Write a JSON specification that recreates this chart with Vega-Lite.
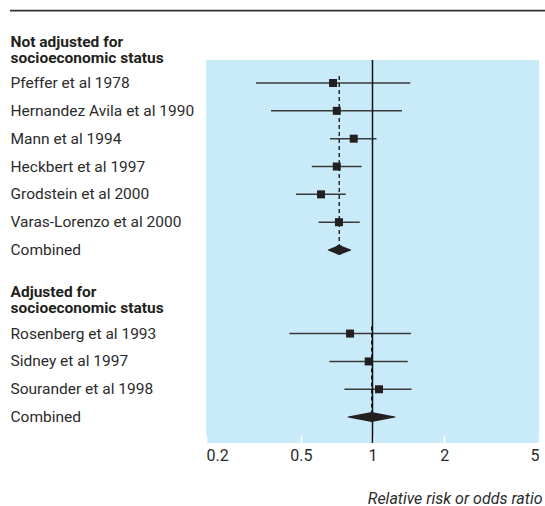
{
  "$schema": "https://vega.github.io/schema/vega-lite/v6.json",
  "width": 333,
  "height": 383,
  "autosize": {"type": "none"},
  "padding": {"left": 206, "top": 60, "right": 6, "bottom": 63},
  "config": {
    "view": {"fill": "#c8eaf9", "stroke": null},
    "font": "Roboto",
    "axisX": {
      "domain": false,
      "grid": false,
      "tickColor": "white",
      "tickSize": -8,
      "tickWidth": 1.5,
      "labelFont": "Roboto",
      "labelFontSize": 16,
      "labelColor": "#2b2b2b",
      "labelPadding": 12,
      "titleFont": "Roboto",
      "titleFontSize": 16,
      "titleFontStyle": "italic",
      "titleFontWeight": "normal",
      "titleColor": "#2b2b2b",
      "titleAnchor": "end",
      "titleAlign": "right",
      "titleX": 336,
      "titlePadding": 27
    }
  },
  "data": {
    "values": [
      {"group": "na", "type": "header", "row": 0, "label": "Not adjusted for\nsocioeconomic status"},
      {"group": "na", "type": "study", "row": 1, "label": "Pfeffer et al 1978", "est": 0.683, "lo": 0.324, "hi": 1.441},
      {"group": "na", "type": "study", "row": 2, "label": "Hernandez Avila et al 1990", "est": 0.708, "lo": 0.375, "hi": 1.33},
      {"group": "na", "type": "study", "row": 3, "label": "Mann et al 1994", "est": 0.834, "lo": 0.663, "hi": 1.04},
      {"group": "na", "type": "study", "row": 4, "label": "Heckbert et al 1997", "est": 0.708, "lo": 0.556, "hi": 0.9},
      {"group": "na", "type": "study", "row": 5, "label": "Grodstein et al 2000", "est": 0.608, "lo": 0.477, "hi": 0.772},
      {"group": "na", "type": "study", "row": 6, "label": "Varas-Lorenzo et al 2000", "est": 0.723, "lo": 0.594, "hi": 0.884},
      {"group": "na", "type": "combined", "row": 7, "label": "Combined", "est": 0.725, "lo": 0.652, "hi": 0.81},
      {"group": "adj", "type": "header", "row": 9, "label": "Adjusted for\nsocioeconomic status"},
      {"group": "adj", "type": "study", "row": 10, "label": "Rosenberg et al 1993", "est": 0.805, "lo": 0.448, "hi": 1.45},
      {"group": "adj", "type": "study", "row": 11, "label": "Sidney et al 1997", "est": 0.964, "lo": 0.659, "hi": 1.405},
      {"group": "adj", "type": "study", "row": 12, "label": "Sourander et al 1998", "est": 1.065, "lo": 0.762, "hi": 1.46},
      {"group": "adj", "type": "combined", "row": 13, "label": "Combined", "est": 0.992, "lo": 0.79, "hi": 1.243}
    ]
  },
  "layer": [
    {
      "transform": [{"filter": "datum.type === 'study'"}],
      "mark": {"type": "rule", "color": "#3a3a3a", "strokeWidth": 1.5},
      "encoding": {
        "x": {
          "field": "lo", "type": "quantitative",
          "title": "Relative risk or odds ratio",
          "scale": {"type": "log", "domain": [0.2, 5], "nice": false},
          "axis": {"values": [0.2, 0.5, 1, 2, 5], "format": "~g"}
        },
        "x2": {"field": "hi"},
        "y": {
          "field": "row", "type": "quantitative",
          "scale": {"domain": [0.1745, 13.93], "reverse": true, "nice": false, "zero": false},
          "axis": null
        }
      }
    },
    {
      "data": {"values": [{}]},
      "mark": {"type": "rule", "color": "#333333", "strokeWidth": 1.8, "xOffset": -196, "x2Offset": 6, "clip": false},
      "encoding": {
        "x": {"datum": 0.2, "type": "quantitative"},
        "x2": {"datum": 5},
        "y": {"datum": -1.6, "type": "quantitative"}
      }
    },
    {
      "data": {"values": [{}]},
      "mark": {"type": "rule", "color": "#111111", "strokeWidth": 1.5},
      "encoding": {
        "x": {"datum": 1, "type": "quantitative"}
      }
    },
    {
      "transform": [
        {"filter": "datum.type !== 'header'"},
        {"joinaggregate": [{"op": "min", "field": "row", "as": "top"}], "groupby": ["group"]},
        {"filter": "datum.type === 'combined'"}
      ],
      "mark": {"type": "rule", "color": "#111111", "strokeWidth": 1.3, "strokeDash": [4, 3], "yOffset": -7},
      "encoding": {
        "x": {"field": "est", "type": "quantitative"},
        "y": {"field": "top", "type": "quantitative"},
        "y2": {"field": "row"}
      }
    },
    {
      "transform": [{"filter": "datum.type === 'study'"}],
      "mark": {"type": "point", "shape": "square", "filled": true, "size": 64, "color": "#231f20", "opacity": 1},
      "encoding": {
        "x": {"field": "est", "type": "quantitative"},
        "y": {"field": "row", "type": "quantitative"}
      }
    },
    {
      "transform": [
        {"filter": "datum.type === 'combined'"},
        {"fold": ["lo", "est", "hi"], "as": ["k", "v"]}
      ],
      "mark": {"type": "trail", "color": "#231f20"},
      "encoding": {
        "x": {"field": "v", "type": "quantitative"},
        "y": {"field": "row", "type": "quantitative"},
        "detail": {"field": "group", "type": "nominal"},
        "order": {"field": "v", "type": "quantitative"},
        "size": {"condition": {"test": "datum.k === 'est'", "value": 10}, "value": 0}
      }
    },
    {
      "transform": [{"filter": "datum.type !== 'header'"}],
      "mark": {"type": "text", "align": "left", "baseline": "middle", "dx": -195.5, "fontSize": 15.5, "color": "#2b2b2b", "font": "Roboto"},
      "encoding": {
        "x": {"datum": 0.2, "type": "quantitative"},
        "y": {"field": "row", "type": "quantitative"},
        "text": {"field": "label", "type": "nominal"}
      }
    },
    {
      "transform": [{"filter": "datum.type === 'header'"}],
      "mark": {"type": "text", "align": "left", "baseline": "middle", "dx": -195.5, "dy": -13.4, "fontSize": 15.5, "fontWeight": "bold", "lineBreak": "\n", "lineHeight": 16, "color": "#231f20", "font": "Roboto"},
      "encoding": {
        "x": {"datum": 0.2, "type": "quantitative"},
        "y": {"field": "row", "type": "quantitative"},
        "text": {"field": "label", "type": "nominal"}
      }
    }
  ]
}
